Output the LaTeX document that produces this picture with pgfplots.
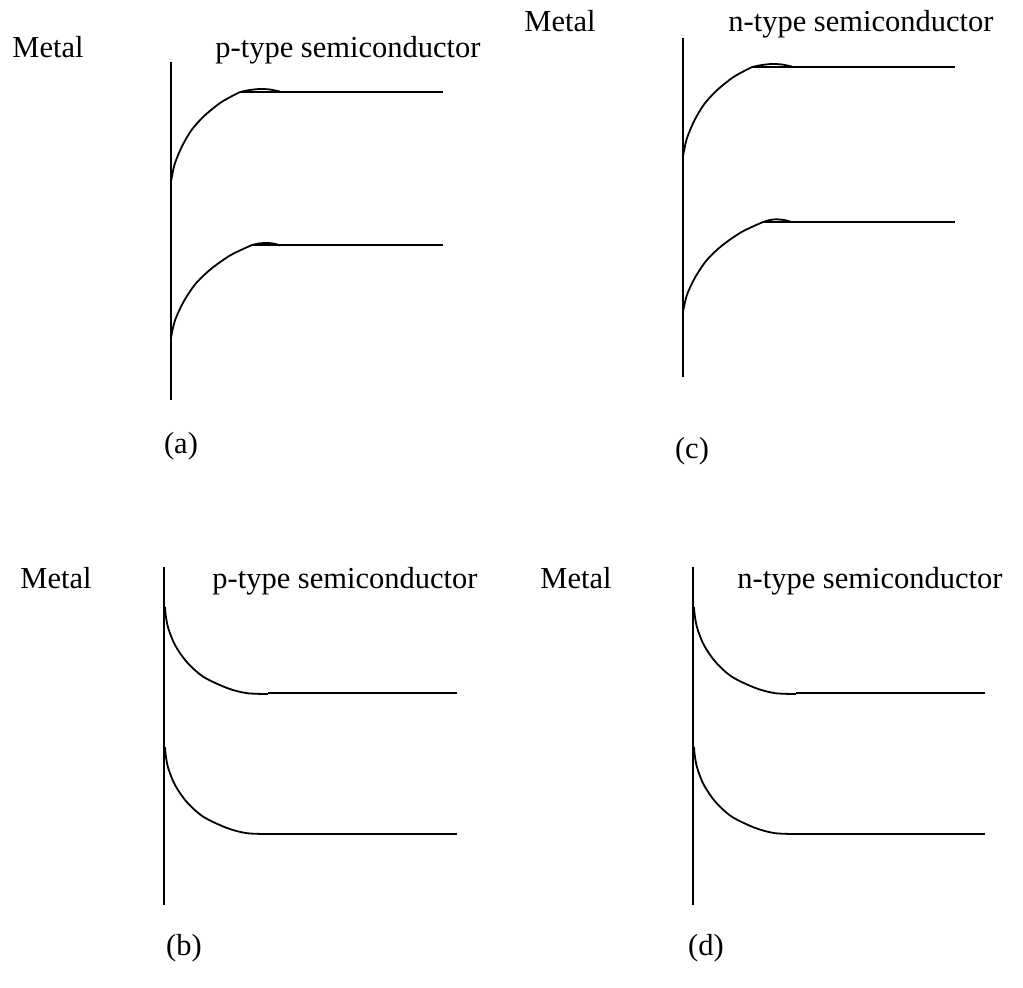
\documentclass[border=0pt]{standalone}
\usepackage{pgfplots}
\pgfplotsset{compat=1.18}
\usepackage{fontspec}
\setmainfont{Liberation Serif}
\begin{document}
\fontsize{15.25}{17}\selectfont
\begin{tikzpicture}
\useasboundingbox (0,0) rectangle (511.5pt,493.5pt);
\begin{axis}[
  scale only axis, width=511.5pt, height=493.5pt,
  xmin=0, xmax=1023, ymin=0, ymax=987, y dir=reverse,
  hide axis, clip=false,
  cycle list={{black,solid,line width=0.9pt}},
  every axis plot/.append style={no markers},
]
% ---------- (a) ----------
\addplot[black, line width=0.7pt] coordinates {(171,62) (171,400)};
\addplot[black, line width=0.9pt, smooth] coordinates {(171,182) (172.4,173.9) (175.0,163.1) (181.7,146.9) (191.7,129.8) (204.8,115.4) (221.7,101.9) (240,92)};
\addplot[black, line width=0.9pt, smooth] coordinates {(240,92) (250,90) (260,89) (270,89.5) (280,91.5)};
\addplot[black, line width=0.9pt] coordinates {(240,92) (443,92)};
\addplot[black, line width=0.9pt, smooth] coordinates {(171,338) (172.6,329.6) (175.7,318.5) (183.6,301.7) (195.3,284.1) (210.7,269.2) (230.5,255.2) (252,245)};
\addplot[black, line width=0.9pt, smooth] coordinates {(252,245) (260,243.3) (268,243) (275,243.8) (280,245.5)};
\addplot[black, line width=0.9pt] coordinates {(252,245) (443,245)};
% ---------- (c) ----------
\addplot[black, line width=0.7pt] coordinates {(683,38) (683,377)};
\addplot[black, line width=0.9pt, smooth] coordinates {(683,157) (684.4,148.9) (687.0,138.1) (693.7,121.9) (703.7,104.8) (716.8,90.4) (733.7,76.9) (752,67)};
\addplot[black, line width=0.9pt, smooth] coordinates {(752,67) (762,65) (772,64) (782,64.5) (792,66.5)};
\addplot[black, line width=0.9pt] coordinates {(752,67) (955,67)};
\addplot[black, line width=0.9pt, smooth] coordinates {(683,312) (684.6,303.9) (687.6,293.1) (695.4,276.9) (707,259.8) (722.2,245.4) (741.8,231.9) (763,222)};
\addplot[black, line width=0.9pt, smooth] coordinates {(763,222) (770,220) (776,219.3) (784,220) (791,221.8)};
\addplot[black, line width=0.9pt] coordinates {(763,222) (955,222)};
% ---------- (b) ----------
\addplot[black, line width=0.7pt] coordinates {(164,567) (164,905)};
\addplot[black, line width=0.9pt, smooth] coordinates {(165,607) (165.8,615.7) (168.3,628.3) (175.0,645.0) (186.6,661.8) (203.1,676.6) (226.8,687.9) (246.4,693.1) (268,694)};
\addplot[black, line width=0.9pt] coordinates {(268,693) (457,693)};
\addplot[black, line width=0.9pt, smooth] coordinates {(165,747) (165.8,755.7) (168.3,768.3) (175.0,785.0) (186.6,801.8) (203.1,816.6) (226.8,827.9) (246.4,833.1) (268,834)};
\addplot[black, line width=0.9pt] coordinates {(268,834) (457,834)};
% ---------- (d) ----------
\addplot[black, line width=0.7pt] coordinates {(693,567) (693,905)};
\addplot[black, line width=0.9pt, smooth] coordinates {(694,607) (694.8,615.7) (697.3,628.3) (703.9,645.0) (715.4,661.8) (731.7,676.6) (755.2,687.9) (774.6,693.1) (796,694)};
\addplot[black, line width=0.9pt] coordinates {(796,693) (985,693)};
\addplot[black, line width=0.9pt, smooth] coordinates {(694,747) (694.8,755.7) (697.3,768.3) (703.9,785.0) (715.4,801.8) (731.7,816.6) (755.2,827.9) (774.6,833.1) (796,834)};
\addplot[black, line width=0.9pt] coordinates {(796,834) (985,834)};
% ---------- texts ----------
\node[anchor=base west, inner sep=0pt] at (axis cs:12,57) {Metal};
\node[anchor=base west, inner sep=0pt] at (axis cs:215,57) {p-type semiconductor};
\node[anchor=base west, inner sep=0pt] at (axis cs:524,31) {Metal};
\node[anchor=base west, inner sep=0pt] at (axis cs:728,31) {n-type semiconductor};
\node[anchor=base, inner sep=0pt] at (axis cs:181,453) {(a)};
\node[anchor=base, inner sep=0pt] at (axis cs:692,458) {(c)};
\node[anchor=base west, inner sep=0pt] at (axis cs:20,588) {Metal};
\node[anchor=base west, inner sep=0pt] at (axis cs:212,588) {p-type semiconductor};
\node[anchor=base west, inner sep=0pt] at (axis cs:540,588) {Metal};
\node[anchor=base west, inner sep=0pt] at (axis cs:737,588) {n-type semiconductor};
\node[anchor=base, inner sep=0pt] at (axis cs:184,955) {(b)};
\node[anchor=base, inner sep=0pt] at (axis cs:706,955) {(d)};
\end{axis}
\end{tikzpicture}
\end{document}
